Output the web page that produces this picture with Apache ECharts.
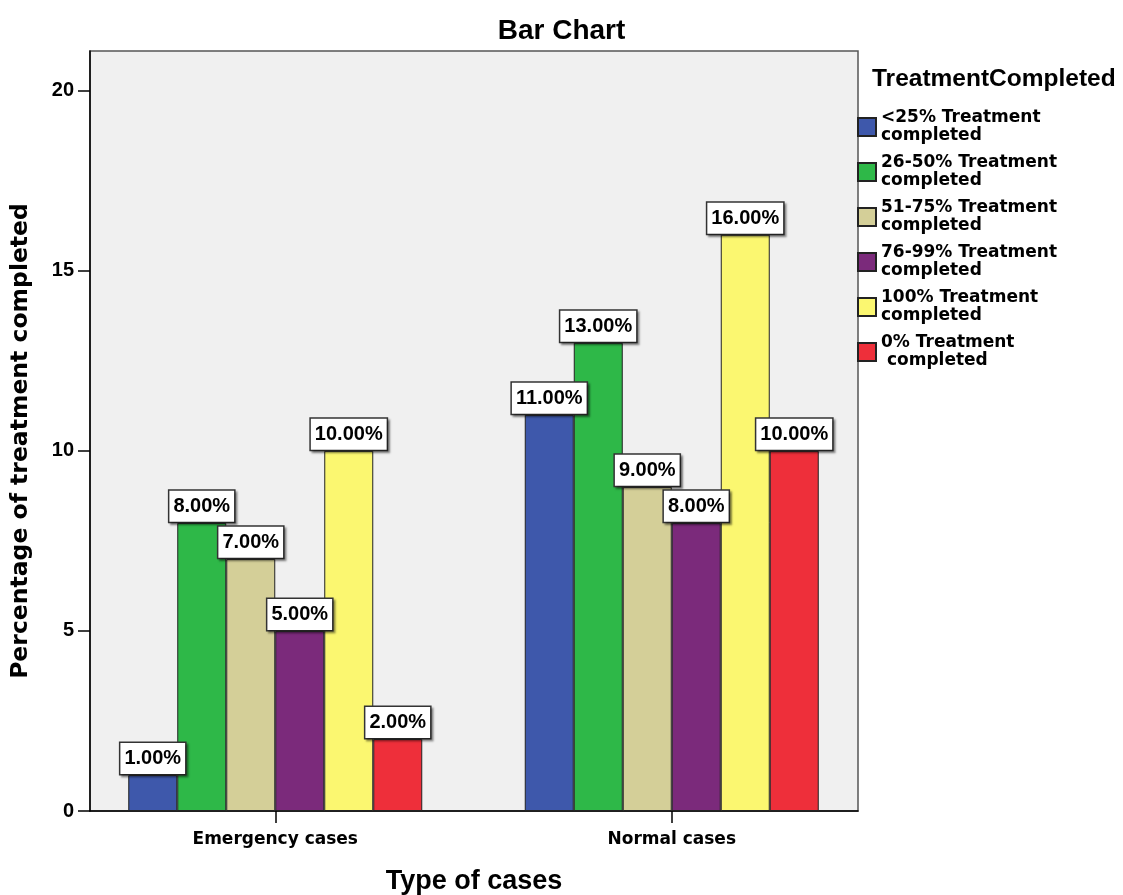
<!DOCTYPE html>
<html>
<head>
<meta charset="utf-8">
<script src="https://cdn.jsdelivr.net/npm/echarts@6/dist/echarts.min.js"></script>
<style>
html,body{margin:0;padding:0;background:#fff;overflow:hidden;}
#chart{width:1123px;height:895px;}
</style>
</head>
<body>
<div id="chart"></div>
<script>
const categories = ['Emergency cases', 'Normal cases'];
const seriesNames = [
  '<25% Treatment\ncompleted',
  '26-50% Treatment\ncompleted',
  '51-75% Treatment\ncompleted',
  '76-99% Treatment\ncompleted',
  '100% Treatment\ncompleted',
  '0% Treatment\n completed'
];
const under25 = [1, 11];
const from26to50 = [8, 13];
const from51to75 = [7, 9];
const from76to99 = [5, 8];
const full100 = [10, 16];
const zeroPct = [2, 10];
const yTicks = [0, 5, 10, 15, 20];

const seriesValues = [under25, from26to50, from51to75, from76to99, full100, zeroPct];
const colors = ['#3e58ab', '#2eb848', '#d4cf98', '#7b2a7b', '#fbf770', '#ee2f3a'];

const SMALL = 'DejaVu Sans';
const ARIAL = 'Liberation Sans, Arial';
const YMAX = 21.1;

const chart = echarts.init(document.getElementById('chart'));
chart.setOption({
  animation: false,
  backgroundColor: '#fff',
  title: [
    { text: 'Bar Chart', left: 'center', top: 12,
      textStyle: { fontFamily: ARIAL, fontWeight: 'bold', fontSize: 28, color: '#000' } },
    { text: 'TreatmentCompleted', left: 867, top: 62,
      textStyle: { fontFamily: ARIAL, fontWeight: 'bold', fontSize: 24.5, color: '#000' } }
  ],
  legend: {
    orient: 'vertical', left: 857, top: 109, padding: 0,
    itemWidth: 18, itemHeight: 18, itemGap: 9, icon: 'rect',
    data: seriesNames,
    textStyle: { fontFamily: SMALL, fontWeight: 'bold', fontSize: 17, lineHeight: 18, color: '#000' }
  },
  grid: [
    { left: 90, right: 265, top: 51, bottom: 84, show: true, backgroundColor: '#f0f0f0',
      borderColor: '#555', borderWidth: 1.5, outerBoundsMode: 'none', containLabel: false },
    { left: 77, width: 793, top: 51, bottom: 84, show: false, outerBoundsMode: 'none', containLabel: false }
  ],
  xAxis: [
    { type: 'category', gridIndex: 0, data: categories,
      axisLine: { lineStyle: { color: '#000', width: 1.5 } },
      axisTick: { show: false }, axisLabel: { show: false },
      name: 'Type of cases', nameLocation: 'middle', nameGap: 57,
      nameTextStyle: { fontFamily: ARIAL, fontWeight: 'bold', fontSize: 27, color: '#000' } },
    { type: 'category', gridIndex: 1, data: categories,
      axisLine: { show: false },
      axisTick: { show: true, alignWithLabel: true, length: 12, lineStyle: { color: '#000', width: 1.5 } },
      axisLabel: { margin: 20, fontFamily: SMALL, fontWeight: 'bold', fontSize: 17, color: '#000' } }
  ],
  yAxis: [
    { type: 'value', gridIndex: 0, min: 0, max: YMAX, interval: 5,
      splitLine: { show: false },
      axisLine: { show: true, lineStyle: { color: '#000', width: 1.5 } },
      axisTick: { show: true, length: 12, customValues: yTicks, lineStyle: { color: '#000', width: 1.5 } },
      axisLabel: { customValues: yTicks, margin: 16, fontFamily: ARIAL, fontWeight: 'bold', fontSize: 20, color: '#000' },
      name: 'Percentage of treatment completed', nameLocation: 'middle', nameGap: 57,
      nameTextStyle: { fontFamily: SMALL, fontWeight: 'bold', fontSize: 23.5, color: '#000', padding: [0, 20, 0, 0] } },
    { type: 'value', gridIndex: 1, min: 0, max: YMAX, show: false, splitLine: { show: false } }
  ],
  series: seriesNames.map((name, i) => ({
    name: name,
    type: 'bar',
    xAxisIndex: 1, yAxisIndex: 1,
    barWidth: 49, barGap: '0%',
    data: seriesValues[i],
    itemStyle: { color: colors[i], borderColor: '#222', borderWidth: 1 },
    label: {
      show: true, position: 'top', distance: 1,
      formatter: p => p.value.toFixed(2) + '%',
      fontFamily: ARIAL, fontWeight: 'bold', fontSize: 20, color: '#000',
      backgroundColor: '#fff', borderColor: '#333', borderWidth: 1.5,
      padding: [6, 4, 5, 4],
      shadowColor: 'rgba(0,0,0,0.35)', shadowOffsetX: 2, shadowOffsetY: 2, shadowBlur: 2
    }
  }))
});
</script>
</body>
</html>
